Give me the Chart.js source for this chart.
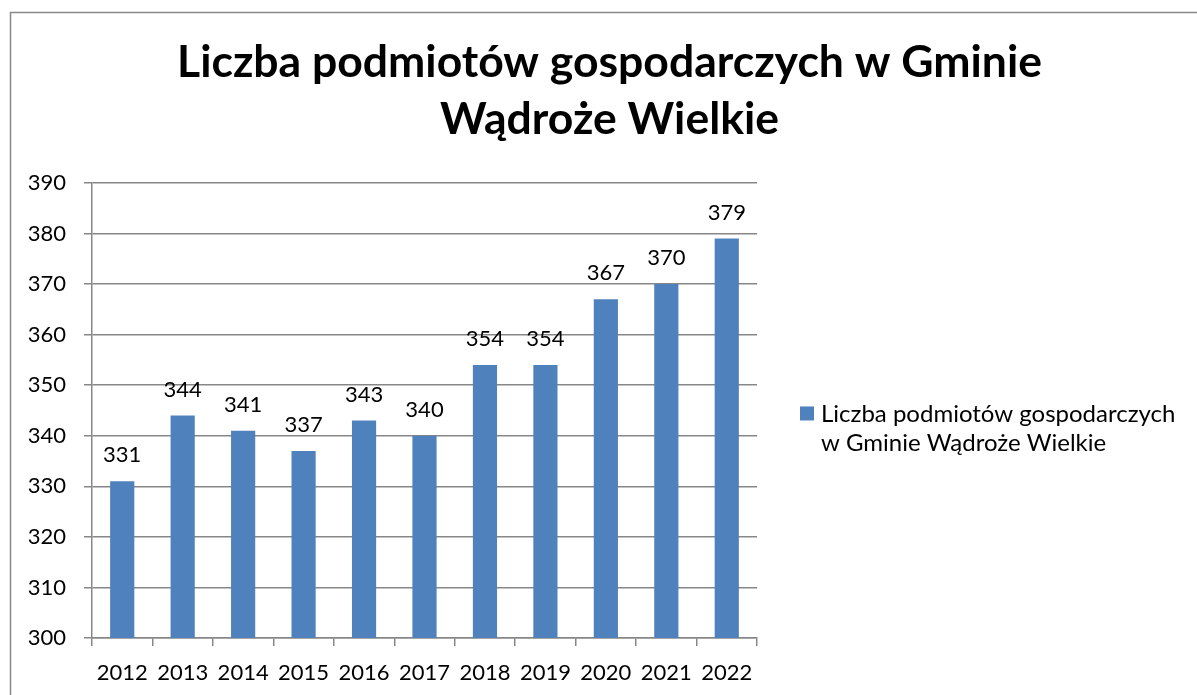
<!DOCTYPE html>
<html>
<head>
<meta charset="utf-8">
<script src="https://cdn.jsdelivr.net/npm/chart.js@4.4.1/dist/chart.umd.min.js"></script>
<style>
  html, body { margin: 0; padding: 0; background: #fff; }
  #wrap { width: 1197px; height: 695px; position: relative; }
</style>
</head>
<body>
<div id="wrap"><canvas id="c" width="1197" height="695"></canvas></div>
<script>
const titleLines = ['Liczba podmiotów gospodarczych w Gminie', 'Wądroże Wielkie'];
const seriesName = 'Liczba podmiotów gospodarczych w Gminie Wądroże Wielkie';
const legendLines = ['Liczba podmiotów gospodarczych', 'w Gminie Wądroże Wielkie'];
const years = ['2012','2013','2014','2015','2016','2017','2018','2019','2020','2021','2022'];
const counts = [331, 344, 341, 337, 343, 340, 354, 354, 367, 370, 379];
const yMin = 300, yMax = 390, yStep = 10;

const FONT = 'Lato';
const barColor = '#4F81BD';
const gridColor = '#878787';

const framePlugin = {
  id: 'frame',
  beforeDraw(chart) {
    const ctx = chart.ctx;
    ctx.save();
    ctx.fillStyle = '#fff';
    ctx.fillRect(0, 0, chart.width, chart.height);
    ctx.strokeStyle = '#898989';
    ctx.lineWidth = 1.5;
    ctx.strokeRect(10.5, 12.5, 1400, 1000);
    ctx.restore();
  }
};

const valueLabels = {
  id: 'valueLabels',
  afterDatasetsDraw(chart) {
    const ctx = chart.ctx;
    const meta = chart.getDatasetMeta(0);
    ctx.save();
    ctx.font = '22px ' + FONT;
    ctx.fillStyle = '#000';
    ctx.textAlign = 'center';
    ctx.textBaseline = 'middle';
    meta.data.forEach((bar, i) => {
      ctx.fillText(String(chart.data.datasets[0].data[i]), bar.x, bar.y - 26);
    });
    ctx.restore();
  }
};

const sideLegend = {
  id: 'sideLegend',
  afterDraw(chart) {
    const ctx = chart.ctx;
    const x0 = chart.chartArea.right + 43;
    const yc = (chart.chartArea.top + chart.chartArea.bottom) / 2;
    ctx.save();
    ctx.fillStyle = chart.data.datasets[0].backgroundColor;
    ctx.fillRect(x0, yc - 4, 14, 14);
    ctx.font = '24px ' + FONT;
    ctx.fillStyle = '#000';
    ctx.textAlign = 'left';
    ctx.textBaseline = 'middle';
    legendLines.forEach((t, i) => ctx.fillText(t, x0 + 21, yc + 4 + i * 29));
    ctx.restore();
  }
};

new Chart(document.getElementById('c'), {
  type: 'bar',
  data: {
    labels: years,
    datasets: [{
      label: seriesName,
      data: counts,
      backgroundColor: barColor,
      borderWidth: 0,
      categoryPercentage: 1.0,
      barPercentage: 0.4
    }]
  },
  options: {
    responsive: false,
    animation: false,
    layout: { padding: { left: 22, right: 0, top: 0, bottom: 0 } },
    plugins: {
      legend: { display: false },
      tooltip: { enabled: false },
      title: {
        display: true,
        text: titleLines,
        color: '#000',
        font: { family: FONT, size: 44.5, weight: 'bold', lineHeight: 1.28 },
        padding: { top: 34, bottom: 35 }
      }
    },
    scales: {
      x: {
        grid: { display: true, drawOnChartArea: false, offset: true, tickLength: 8, color: gridColor, lineWidth: 1.5 },
        border: { display: true, color: gridColor, width: 1.5 },
        ticks: { color: '#000', font: { family: FONT, size: 22 }, padding: 14, maxRotation: 0, autoSkip: false },
        afterFit(scale) { scale.height = 57; }
      },
      y: {
        min: yMin, max: yMax,
        grid: { color: gridColor, lineWidth: 1.5, tickLength: 8 },
        border: { display: true, color: gridColor, width: 1.5 },
        ticks: { stepSize: yStep, color: '#000', font: { family: FONT, size: 22 }, padding: 18 },
        afterFit(scale) { scale.width = 70; }
      },
      spacer: {
        type: 'linear',
        position: 'right',
        display: true,
        grid: { display: false, drawTicks: false },
        border: { display: false },
        ticks: { display: false },
        afterFit(scale) { scale.width = 440; }
      }
    }
  },
  plugins: [framePlugin, valueLabels, sideLegend]
});
</script>
</body>
</html>
